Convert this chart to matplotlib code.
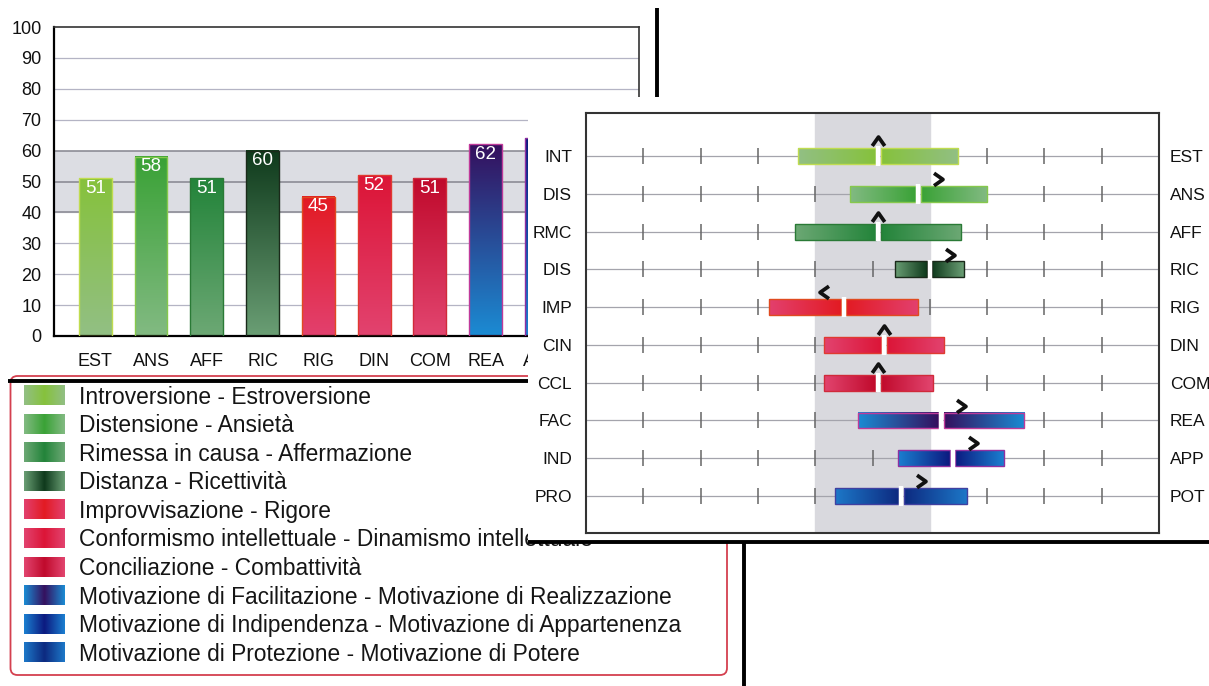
import numpy as np
import matplotlib.pyplot as plt
from matplotlib.path import Path
from matplotlib.patches import FancyBboxPatch
from matplotlib.colors import to_rgb

plt.rcParams['font.family'] = ['Liberation Sans', 'DejaVu Sans']

# scale codes (high pole) and their opposite pole
codes = ['EST', 'ANS', 'AFF', 'RIC', 'RIG', 'DIN', 'COM', 'REA', 'APP', 'POT']
opposites = ['INT', 'DIS', 'RMC', 'DIS', 'IMP', 'CIN', 'CCL', 'FAC', 'IND', 'PRO']
scores = [51, 58, 51, 60, 45, 52, 51, 62, 64, 55]
low = [37, 46, 36.5, 54, 32, 41.5, 41.5, 47.5, 54.5, 43.5]
high = [65, 70, 65.5, 66, 58, 62.5, 60.5, 76.5, 73, 66.5]
trend = ['^', '>', '^', '>', '<', '^', '^', '>', '>', '>']
dimensions = [
    'Introversione - Estroversione',
    'Distensione - Ansietà',
    'Rimessa in causa - Affermazione',
    'Distanza - Ricettività',
    'Improvvisazione - Rigore',
    'Conformismo intellettuale - Dinamismo intellettuale',
    'Conciliazione - Combattività',
    'Motivazione di Facilitazione - Motivazione di Realizzazione',
    'Motivazione di Indipendenza - Motivazione di Appartenenza',
    'Motivazione di Protezione - Motivazione di Potere',
]
band = (40, 60)

deep = ['#86c23c', '#3aa236', '#23843a', '#0f3a1c', '#e31b23',
        '#dc1537', '#c00a2c', '#35105e', '#0c1a80', '#0d2a80']
pale = ['#92bf84', '#82ba82', '#6ca874', '#6a9e74', '#e2406e',
        '#e2436f', '#e2456f', '#1b8bd3', '#1b7fd0', '#1d78c8']
edges = ['#c0dc50', '#86c84c', '#2a7a36', '#1a2a1a', '#e04a20',
         '#e03a30', '#d02a3a', '#c03a9a', '#9030a0', '#4040a0']

W, H = 1209, 686
fig = plt.figure(figsize=(W / 100, H / 100), dpi=100)


def box(x0, y0, x1, y1):
    return [x0 / W, 1 - y1 / H, (x1 - x0) / W, (y1 - y0) / H]


def gradient(ax, x0, x1, y0, y1, stops, vertical=False, z=2):
    t = np.linspace(0, 1, 80)[:, None]
    cs = [np.array(to_rgb(c)) for c in stops]
    if len(cs) == 2:
        cols = cs[0] + (cs[1] - cs[0]) * t
    else:
        f = np.abs(2 * t - 1)
        cols = cs[1] + (cs[0] - cs[1]) * f
    img = cols[:, None, :] if vertical else cols[None, :, :]
    ax.imshow(img, extent=(x0, x1, y0, y1), origin='lower', aspect='auto',
              interpolation='bilinear', zorder=z)


def chevron(kind):
    pts = {'>': [(-0.5, 0.7), (0.5, 0), (-0.5, -0.7)],
           '<': [(0.5, 0.7), (-0.5, 0), (0.5, -0.7)],
           '^': [(-0.7, -0.5), (0, 0.5), (0.7, -0.5)]}[kind]
    return Path(pts, [Path.MOVETO, Path.LINETO, Path.LINETO])


# ---- bar chart of scores ----
ax = fig.add_axes(box(54, 27, 638.5, 336))
x = np.arange(len(codes))
ax.axhspan(*band, color='#dcdde3', zorder=0)
for v in range(10, 100, 10):
    dark = band[0] <= v <= band[1]
    ax.axhline(v, color='#85858f' if dark else '#b4b4c4', lw=1.1 if dark else 0.9, zorder=1)
bars = ax.bar(x, scores, width=0.59, facecolor='none', lw=1.0, zorder=3)
for p, top, bot, ec, s in zip(bars.patches, deep, pale, edges, scores):
    x0, w, h = p.get_x(), p.get_width(), p.get_height()
    gradient(ax, x0, x0 + w, 0, h, [bot, top], vertical=True, z=2)
    p.set_edgecolor(ec)
    ax.text(x0 + w / 2, h - 0.5, str(s), ha='center', va='top', color='white', fontsize=13.5)
ax.set_xlim(-0.74, len(codes) - 0.26)
ax.set_ylim(0, 100)
ax.set_yticks(range(0, 101, 10))
ax.set_xticks(x, codes)
ax.tick_params(axis='both', length=0, labelsize=13, colors='#111111')
ax.tick_params(axis='y', pad=9, labelsize=13)
ax.tick_params(axis='x', pad=12)
for side in ['left', 'bottom']:
    ax.spines[side].set(color='black', lw=1.6)
for side in ['top', 'right']:
    ax.spines[side].set(color='#333333', lw=1.2)

# ---- legend box ----
lg = fig.add_axes([0, 0, 1, 1])
lg.set_xlim(0, W)
lg.set_ylim(H, 0)
lg.axis('off')
lg.add_patch(FancyBboxPatch((10.5, 376), 716.5, 299,
                            boxstyle='round,pad=0,rounding_size=7',
                            ec='#d4404f', fc='none', lw=1.3))
for i, (name, d, p) in enumerate(zip(dimensions, deep, pale)):
    yc = 395 + 28.6 * i
    gradient(lg, 24, 65, yc + 10, yc - 10, [p, d, p], z=2)
    lg.text(79, yc + 2, name, va='center', ha='left', fontsize=16.4, color='#151515')

# ---- white panel carrying the profile chart ----
panel = fig.add_axes(box(528, 97, W, 541))
panel.set_facecolor('white')
panel.set_xticks([])
panel.set_yticks([])
for s in panel.spines.values():
    s.set_visible(False)

# ---- bipolar profile chart ----
rx = fig.add_axes(box(586, 113, 1159, 533))
rows = np.arange(len(codes))
rx.axvspan(*band, color='#d9d9de', zorder=0)
for r in rows:
    rx.axhline(r, color='#a4a4ac', lw=0.9, zorder=1)
    rx.plot(np.arange(10, 100, 10), np.full(9, r), ls='none', marker='|',
            ms=12, mew=1.1, color='#666666', zorder=1)

gap = 0.45
left = rx.barh(rows, np.array(scores) - gap - np.array(low), left=low,
               height=0.42, facecolor='none', lw=1.0, zorder=3)
right = rx.barh(rows, np.array(high) - np.array(scores) - gap,
                left=np.array(scores) + gap, height=0.42, facecolor='none',
                lw=1.0, zorder=3)
for i in rows:
    pl, pr = left.patches[i], right.patches[i]
    y0, hh = pl.get_y(), pl.get_height()
    gradient(rx, pl.get_x(), pl.get_x() + pl.get_width(), y0, y0 + hh,
             [pale[i], deep[i]], z=2)
    gradient(rx, pr.get_x(), pr.get_x() + pr.get_width(), y0, y0 + hh,
             [deep[i], pale[i]], z=2)
    pl.set_edgecolor(edges[i])
    pr.set_edgecolor(edges[i])
    rx.vlines(scores[i], i - 0.26, i + 0.26, color='white', lw=3.2, zorder=4)
    dx = {'>': 3.5, '<': -3.5, '^': 0}[trend[i]]
    rx.plot(scores[i] + dx, i - 0.39, ls='none', marker=chevron(trend[i]),
            ms=9, mew=2.7, mfc='none', mec='#111111', zorder=5)

rx.set_xlim(0, 100)
rx.set_ylim(9.98, -1.14)
rx.set_xticks([])
rx.set_yticks(rows, opposites)
rx.tick_params(axis='y', length=0, pad=10, labelsize=12.5, labelcolor='#111111')
sec = rx.secondary_yaxis('right')
sec.set_yticks(rows, codes)
sec.tick_params(axis='y', length=0, pad=8, labelsize=12.5, labelcolor='#111111')
sec.spines['right'].set_visible(False)
for s in rx.spines.values():
    s.set(color='#333333', lw=1.5)

# ---- heavy dividers ----
ov = fig.add_axes([0, 0, 1, 1])
ov.set_xlim(0, W)
ov.set_ylim(H, 0)
ov.axis('off')
ov.plot([656.5, 656.5], [8, 97], color='black', lw=2.8, solid_capstyle='butt')
ov.plot([8, 528], [381, 381], color='black', lw=2.8, solid_capstyle='butt')
ov.plot([528, W], [542, 542], color='black', lw=2.8, solid_capstyle='butt')
ov.plot([744, 744], [542, H], color='black', lw=2.8, solid_capstyle='butt')

fig.savefig('out.png', dpi=100, facecolor='white')
